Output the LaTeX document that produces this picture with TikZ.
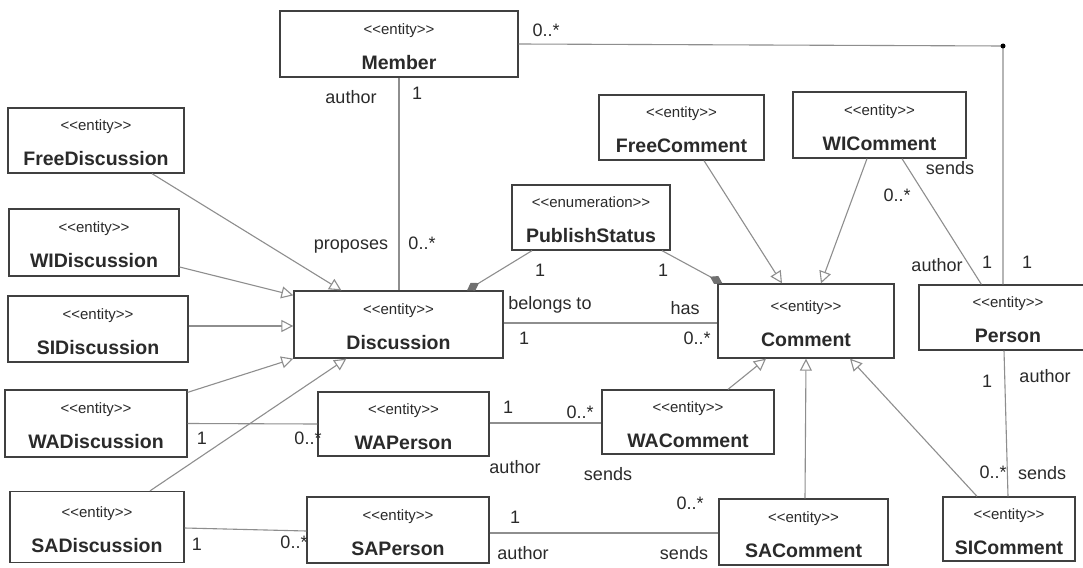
\documentclass[tikz,border=0pt]{standalone}
\usepackage{fontspec}
\setmainfont{Liberation Sans}
\usetikzlibrary{arrows.meta}
\definecolor{boxc}{HTML}{404040}
\definecolor{linec}{HTML}{8E8E8E}
\definecolor{txtc}{HTML}{2A2A2A}
\definecolor{diac}{HTML}{707070}
\newcommand\ent[2]{\rule{0pt}{16pt}{<}{<}#1{>}{>}\\{\fontsize{19.5}{35}\selectfont\bfseries #2}}
\begin{document}
\begin{tikzpicture}[x=1pt,y=-1pt,
  box/.style={draw=boxc, line width=1.3pt, fill=white, inner sep=0pt, align=center,
    text=txtc, font=\fontsize{15}{35}\selectfont},
  lbl/.style={inner sep=0pt, text=txtc, font=\fontsize{18}{20}\selectfont, text height=13pt, text depth=0pt},
  conn/.style={draw=linec, line width=1.1pt},
  gen/.style={conn, -{Triangle[open, length=12pt, width=12pt, fill=white]}},
  comp/.style={conn, -{Diamond[length=14pt, width=9pt, fill=diac, color=diac]}}]
\useasboundingbox (0,0) rectangle (1083,567);
\fill[white] (0,0) rectangle (1083,567);
% boxes
\node[box, minimum width=238pt, minimum height=66pt] (member) at (399,44) {\ent{entity}{Member}};
\node[box, minimum width=176pt, minimum height=65pt] (freedisc) at (96,140.5) {\ent{entity}{FreeDiscussion}};
\node[box, minimum width=170pt, minimum height=67pt] (widisc) at (94,242.5) {\ent{entity}{WIDiscussion}};
\node[box, minimum width=180pt, minimum height=66pt] (sidisc) at (98,329) {\ent{entity}{SIDiscussion}};
\node[box, minimum width=182pt, minimum height=67pt] (wadisc) at (96,423.5) {\ent{entity}{WADiscussion}};
\node[box, minimum width=174pt, minimum height=71pt] (sadisc) at (97,527) {\ent{entity}{SADiscussion}};
\node[box, minimum width=209pt, minimum height=67pt] (disc) at (398.5,324.5) {\ent{entity}{Discussion}};
\node[box, minimum width=158pt, minimum height=65pt] (pubstat) at (591,217.5) {\ent{enumeration}{PublishStatus}};
\node[box, minimum width=176pt, minimum height=74pt] (comment) at (806,321) {\ent{entity}{Comment}};
\node[box, minimum width=165pt, minimum height=65pt] (freecomm) at (681.5,127.5) {\ent{entity}{FreeComment}};
\node[box, minimum width=173pt, minimum height=66pt] (wicomm) at (879.5,125) {\ent{entity}{WIComment}};
\node[box, minimum width=178pt, minimum height=65pt] (person) at (1008,317.5) {\ent{entity}{Person}};
\node[box, minimum width=171pt, minimum height=64pt] (waperson) at (403.5,424) {\ent{entity}{WAPerson}};
\node[box, minimum width=172pt, minimum height=64pt] (wacomm) at (688,422) {\ent{entity}{WAComment}};
\node[box, minimum width=182pt, minimum height=66pt] (saperson) at (398,530) {\ent{entity}{SAPerson}};
\node[box, minimum width=169pt, minimum height=66pt] (sacomm) at (803.5,532) {\ent{entity}{SAComment}};
\node[box, minimum width=132pt, minimum height=64pt] (sicomm) at (1009,529) {\ent{entity}{SIComment}};
% generalisations
\draw[gen] ([xshift=56pt]freedisc.south) -- ([xshift=48pt]disc.north west);
\draw[gen] ([yshift=-24.5pt]widisc.east) -- ([yshift=-5pt]disc.north west);
\draw[gen] ([yshift=3pt]sidisc.east) -- ([yshift=-1.5pt]disc.west);
\draw[gen] ([yshift=-3pt]wadisc.north east) -- (disc.south west);
\draw[gen] ([xshift=53pt]sadisc.north) -- ([xshift=53pt]disc.south west);
\draw[gen] ([xshift=-12.5pt]wicomm.south) -- ([xshift=15pt]comment.north);
\draw[gen] ([xshift=22.5pt]freecomm.south) -- ([xshift=-24pt]comment.north);
\draw[gen] ([xshift=40pt]wacomm.north) -- ([xshift=-40pt]comment.south);
\draw[gen] ([xshift=1.5pt]sacomm.north) -- (comment.south);
\draw[gen] ([xshift=-32pt]sicomm.north) -- ([xshift=44pt]comment.south);
% associations
\draw[conn] (member.south) -- (member.south |- disc.north);
\coordinate (joint) at (1003,46);
\draw[conn] (member.east) -- (joint) -- (joint |- person.north);
\fill[black] (joint) circle (2.5pt);
\draw[conn] ([xshift=22.5pt]wicomm.south) -- ([xshift=63pt]person.north west);
\draw[comp] ([xshift=-59pt]pubstat.south) -- ([xshift=68.5pt]disc.north);
\draw[comp] ([xshift=71pt]pubstat.south) -- ([xshift=5pt]comment.north west);
\draw[conn] ([yshift=1.5pt]disc.east) -- ([yshift=-2pt]comment.west);
\draw[conn] (wadisc.east) -- (waperson.west);
\draw[conn] ([yshift=-1pt]sadisc.east) -- ([yshift=-1pt]saperson.west);
\draw[conn] ([yshift=1pt]waperson.east) -- ([yshift=-1pt]wacomm.west);
\draw[conn] ([yshift=-3pt]saperson.east) -- ([yshift=-1pt]sacomm.west);
\draw[conn] ([xshift=-4pt]person.south) -- ([xshift=-1pt]sicomm.north);
% labels
\node[lbl] (l1) at (546,30) {0..*};
\node[lbl] (l2) at (351,97) {author};
\node[lbl] (l3) at (417,93) {1};
\node[lbl] (l4) at (351,243) {proposes};
\node[lbl] (l5) at (422,243) {0..*};
\node[lbl] (l6) at (540,270) {1};
\node[lbl] (l7) at (663,270) {1};
\node[lbl] (l8) at (550,303) {belongs to};
\node[lbl] (l9) at (524,338) {1};
\node[lbl] (l10) at (685,308) {has};
\node[lbl] (l11) at (697,338) {0..*};
\node[lbl] (l12) at (950,168) {sends};
\node[lbl] (l13) at (897,195) {0..*};
\node[lbl] (l14) at (937,265) {author};
\node[lbl] (l15) at (987,262) {1};
\node[lbl] (l16) at (1027,262) {1};
\node[lbl] (l17) at (987,381) {1};
\node[lbl] (l18) at (1045,376) {author};
\node[lbl] (l19) at (993,472) {0..*};
\node[lbl] (l20) at (1042,473) {sends};
\node[lbl] (l21) at (202,438) {1};
\node[lbl] (l22) at (308,438) {0..*};
\node[lbl] (l23) at (197,544) {1};
\node[lbl] (l24) at (294,542) {0..*};
\node[lbl] (l25) at (508,407) {1};
\node[lbl] (l26) at (580,412) {0..*};
\node[lbl] (l27) at (515,467) {author};
\node[lbl] (l28) at (608,474) {sends};
\node[lbl] (l29) at (515,517) {1};
\node[lbl] (l30) at (690,503) {0..*};
\node[lbl] (l31) at (523,553) {author};
\node[lbl] (l32) at (684,553) {sends};
\end{tikzpicture}
\end{document}
